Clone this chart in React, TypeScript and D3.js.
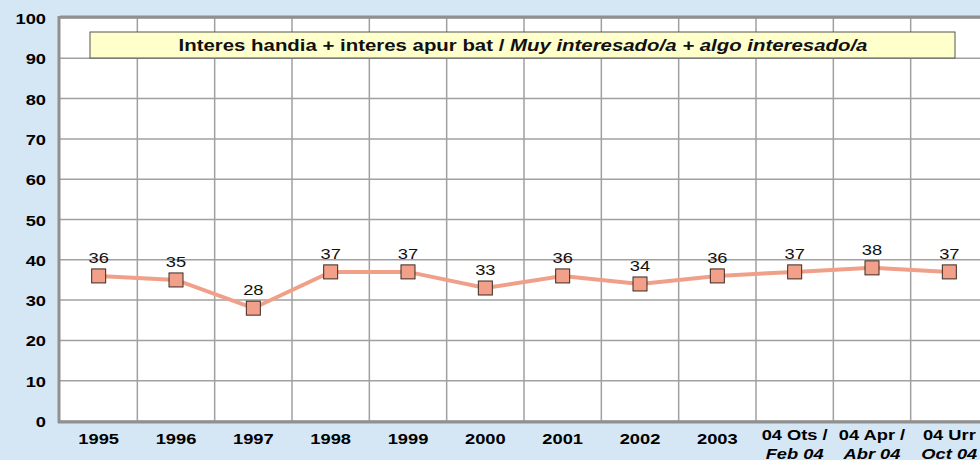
import React from "react";
import * as d3 from "d3";

const categories = ["1995", "1996", "1997", "1998", "1999", "2000", "2001", "2002", "2003", "04 Ots /", "04 Apr /", "04 Urr"];
const subLabels = ["", "", "", "", "", "", "", "", "", "Feb 04", "Abr 04", "Oct 04"];
const values = [36, 35, 28, 37, 37, 33, 36, 34, 36, 37, 38, 37];
const yTicks = [0, 10, 20, 30, 40, 50, 60, 70, 80, 90, 100];
const titleMain = "Interes handia + interes apur bat / ";
const titleItalic = "Muy interesado/a + algo interesado/a";

const FONT = "Arial, 'Liberation Sans', sans-serif";
const SX = 1.22;

function SText(props: { x: number; y: number; anchor?: string; size: number; bold?: boolean; italic?: boolean; children: React.ReactNode; sx?: number; fill?: string }) {
  const { x, y, anchor = "middle", size, bold, italic, children, sx = SX, fill = "#000" } = props;
  return (
    <text
      transform={`translate(${x},${y}) scale(${sx},1)`}
      textAnchor={anchor}
      fontFamily={FONT}
      fontSize={size}
      fontWeight={bold ? "bold" : "normal"}
      fontStyle={italic ? "italic" : "normal"}
      fill={fill}
    >
      {children}
    </text>
  );
}

export default function App() {
  const W = 980, H = 460;
  const left = 60, right = 988, top = 18, bottom = 421;
  const x = d3.scaleBand<string>().domain(categories).range([left, right]);
  const y = d3.scaleLinear().domain([0, 100]).range([bottom, top]);
  const cx = (c: string) => (x(c) as number) + x.bandwidth() / 2;
  const line = d3.line<number>().x((_, i) => cx(categories[i])).y(d => y(d));
  return (
    <svg width={W} height={H} style={{ position: "absolute", left: 0, top: 0 }}>
      <rect x={0} y={0} width={W} height={H} fill="#d5e7f5" />
      <rect x={left} y={top} width={right - left} height={bottom - top} fill="#ffffff" />
      {yTicks.map(t => (
        <line key={"h" + t} x1={left} x2={right} y1={y(t)} y2={y(t)} stroke="#a0a0a0" strokeWidth={1.5} />
      ))}
      {categories.slice(1).map(c => (
        <line key={"v" + c} x1={x(c)} x2={x(c)} y1={top} y2={bottom} stroke="#a0a0a0" strokeWidth={1.5} />
      ))}
      <line x1={left} x2={right} y1={top - 1} y2={top - 1} stroke="#909090" strokeWidth={3} />
      <line x1={left - 1} x2={left - 1} y1={top - 2} y2={bottom + 2} stroke="#909090" strokeWidth={3} />
      <line x1={left - 2} x2={right} y1={bottom + 1} y2={bottom + 1} stroke="#909090" strokeWidth={3} />
      {yTicks.map(t => (
        <SText key={"yt" + t} x={46} y={y(t) + 6} anchor="end" size={15} bold>{t}</SText>
      ))}
      {categories.map((c, i) => (
        <g key={"xl" + c}>
          <SText x={cx(c)} y={subLabels[i] ? 440 : 444} size={15} bold>{c}</SText>
          {subLabels[i] && (
            <SText x={cx(c)} y={459} size={15} bold italic>{subLabels[i]}</SText>
          )}
        </g>
      ))}
      <rect x={90} y={32} width={865} height={26} fill="#ffffcc" stroke="#555" strokeWidth={1} />
      <SText x={523} y={51} size={17} bold sx={1.2} fill="#111">
        {titleMain}<tspan fontStyle="italic">{titleItalic}</tspan>
      </SText>
      <path d={line(values) || ""} fill="none" stroke="#f0a088" strokeWidth={4} />
      {values.map((v, i) => (
        <g key={"p" + i}>
          <rect x={cx(categories[i]) - 7} y={y(v) - 7} width={14} height={14} fill="#f2a08a" stroke="#3a2a20" strokeWidth={1} />
          <SText x={cx(categories[i])} y={y(v) - 13} size={15} fill="#111">{v}</SText>
        </g>
      ))}
    </svg>
  );
}
